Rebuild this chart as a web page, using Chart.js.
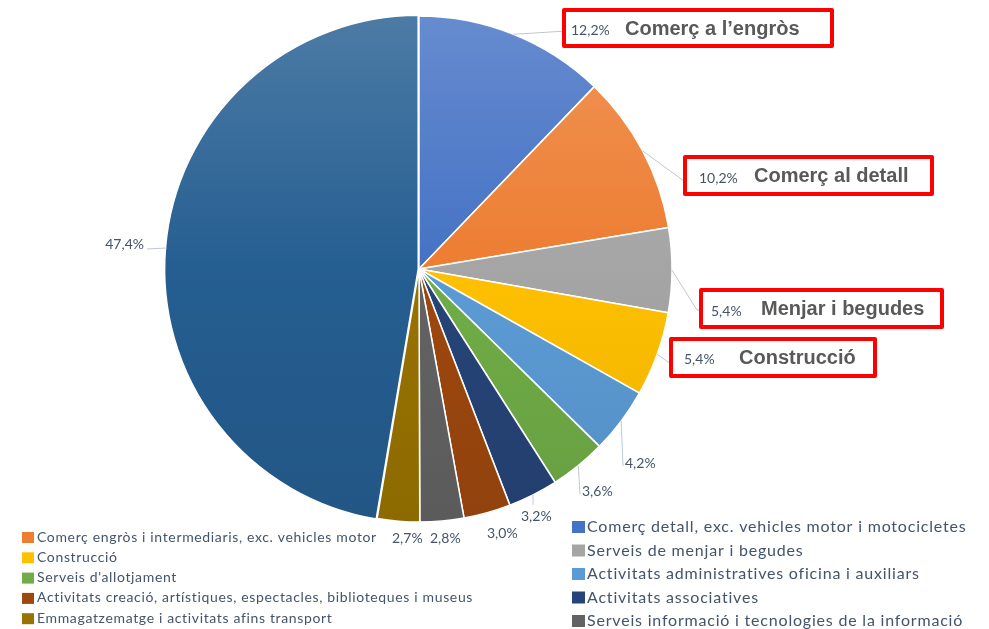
<!DOCTYPE html>
<html>
<head>
<meta charset="utf-8">
<script src="https://cdn.jsdelivr.net/npm/chart.js@4.4.1/dist/chart.umd.min.js"></script>
<style>
    html, body { margin: 0; padding: 0; background: #fff; }
    #wrap { width: 989px; height: 629px; }
</style>
</head>
<body>
<div id="wrap"><canvas id="sectorChart" width="989" height="629"></canvas></div>
<script>
// Data
const categories = [
    'Comerç detall, exc. vehicles motor i motocicletes',
    'Comerç engròs i intermediaris, exc. vehicles motor',
    'Serveis de menjar i begudes',
    'Construcció',
    'Activitats administratives oficina i auxiliars',
    "Serveis d'allotjament",
    'Activitats associatives',
    'Activitats creació, artístiques, espectacles, biblioteques i museus',
    'Serveis informació i tecnologies de la informació',
    'Emmagatzematge i activitats afins transport',
    'Altres'
];
const shares = [12.2, 10.2, 5.4, 5.4, 4.2, 3.6, 3.2, 3.0, 2.8, 2.7, 47.4];
const highlightLabels = ['Comerç a l’engròs', 'Comerç al detall', 'Menjar i begudes', 'Construcció'];
const legendLeft = [1, 3, 5, 7, 9];
const legendRight = [0, 2, 4, 6, 8];

// Styles
const sliceColors = ['#4472C4', '#ED7D31', '#A5A5A5', '#FFC000', '#5B9BD5', '#70AD47',
    '#264478', '#9E480E', '#636363', '#997300', '#255E91'];
const textColor = '#44546A';

// Label placement (percent label anchor + leader bend points)
const labelLayout = [
    {x: 571, y: 30, align: 'left', bend: [[566, 31]]},
    {x: 699, y: 178, align: 'left', bend: [[684, 181], [697, 181]]},
    {x: 711, y: 311, align: 'left', bend: [[697, 310], [709, 311]]},
    {x: 684, y: 359, align: 'left', bend: [[668, 362], [682, 363]]},
    {x: 625, y: 463, align: 'left', bend: [[623, 466]]},
    {x: 582, y: 491, align: 'left', bend: [[580, 494]]},
    {x: 521, y: 516, align: 'left', bend: [[533, 505]]},
    {x: 487, y: 533, align: 'left', bend: null},
    {x: 430, y: 538, align: 'left', bend: null},
    {x: 392, y: 538, align: 'left', bend: null},
    {x: 144, y: 244, align: 'right', bend: [[147, 249]]}
];
const boxes = [
    {x: 564, y: 10, w: 268, h: 36, tx: 625},
    {x: 685, y: 157, w: 247, h: 37, tx: 754},
    {x: 701, y: 290, w: 241, h: 37, tx: 761},
    {x: 671, y: 339, w: 204, h: 37, tx: 739}
];

function shade(hex, amt) {
    const n = parseInt(hex.slice(1), 16);
    let r = n >> 16, g = (n >> 8) & 255, b = n & 255;
    const t = amt > 0 ? 255 : 0, p = Math.abs(amt);
    r = Math.round(r + (t - r) * p); g = Math.round(g + (t - g) * p); b = Math.round(b + (t - b) * p);
    return `rgb(${r},${g},${b})`;
}

function sliceFill(ctx) {
    const area = ctx.chart.chartArea;
    const base = sliceColors[ctx.dataIndex];
    if (!area) return base;
    const grad = ctx.chart.ctx.createLinearGradient(0, area.top, 0, area.bottom);
    grad.addColorStop(0, shade(base, 0.18));
    grad.addColorStop(0.5, base);
    grad.addColorStop(1, shade(base, -0.08));
    return grad;
}

// Leader lines, percent labels, highlight boxes and legend
const annotationPlugin = {
    id: 'annotations',
    afterDatasetsDraw(chart) {
        const ctx = chart.ctx;
        const arcs = chart.getDatasetMeta(0).data;
        ctx.save();

        arcs.forEach((arc, i) => {
            const p = arc.getProps(['x', 'y', 'startAngle', 'endAngle', 'outerRadius'], true);
            const mid = (p.startAngle + p.endAngle) / 2;
            const lay = labelLayout[i];
            if (lay.bend) {
                ctx.beginPath();
                ctx.moveTo(p.x + Math.cos(mid) * p.outerRadius, p.y + Math.sin(mid) * p.outerRadius);
                lay.bend.forEach(pt => ctx.lineTo(pt[0], pt[1]));
                ctx.strokeStyle = '#BFC7D5';
                ctx.lineWidth = 1;
                ctx.stroke();
            }
        });

        boxes.forEach((b, i) => {
            ctx.fillStyle = '#fff';
            ctx.fillRect(b.x, b.y, b.w, b.h);
            ctx.strokeStyle = '#FF0000';
            ctx.lineWidth = 4;
            ctx.lineJoin = 'round';
            ctx.strokeRect(b.x, b.y, b.w, b.h);
            ctx.fillStyle = '#595959';
            ctx.font = 'bold 20px "Liberation Sans", Arial, sans-serif';
            ctx.textAlign = 'left';
            ctx.textBaseline = 'middle';
            ctx.fillText(highlightLabels[i], b.tx, b.y + b.h / 2 + 1);
        });

        ctx.font = '14px Lato, sans-serif';
        ctx.fillStyle = textColor;
        ctx.textBaseline = 'middle';
        shares.forEach((v, i) => {
            const lay = labelLayout[i];
            ctx.textAlign = lay.align;
            ctx.fillText(v.toFixed(1).replace('.', ',') + '%', lay.x, lay.y);
        });

        // Legend, two columns
        ctx.textAlign = 'left';
        legendLeft.forEach((idx, r) => {
            const y = 537 + r * 20.3;
            ctx.fillStyle = sliceColors[idx];
            ctx.fillRect(22, y - 5, 12, 11);
            ctx.fillStyle = textColor;
            ctx.font = '14px Lato, sans-serif';
            ctx.letterSpacing = '0.65px';
            ctx.fillText(categories[idx], 37, y);
        });
        legendRight.forEach((idx, r) => {
            const y = 527 + r * 23.5;
            ctx.fillStyle = sliceColors[idx];
            ctx.fillRect(572, y - 6, 13, 12);
            ctx.fillStyle = textColor;
            ctx.font = '16px Lato, sans-serif';
            ctx.letterSpacing = '0.8px';
            ctx.fillText(categories[idx], 587, y);
        });
        ctx.letterSpacing = '0px';

        ctx.restore();
    }
};

const sectorChart = new Chart(document.getElementById('sectorChart').getContext('2d'), {
    type: 'pie',
    data: {
        labels: categories,
        datasets: [{
            data: shares,
            backgroundColor: sliceFill,
            borderColor: '#fff',
            borderWidth: 1.5,
            offset: shares.map((v, i) => i === shares.length - 1 ? 3 : 0)
        }]
    },
    options: {
        responsive: false,
        animation: false,
        radius: 253,
        layout: {
            padding: {left: 166, right: 317, top: 16, bottom: 107}
        },
        plugins: {
            legend: {display: false},
            tooltip: {enabled: false}
        }
    },
    plugins: [annotationPlugin]
});
</script>
</body>
</html>
